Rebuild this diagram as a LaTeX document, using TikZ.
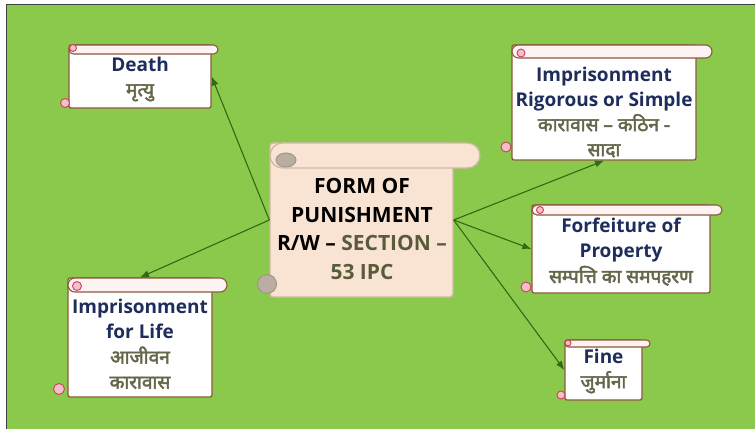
\documentclass[tikz,border=0pt]{standalone}
\usepackage{fontspec}
\setmainfont{Open Sans}
\newfontfamily\hindi[Script=Devanagari,FakeBold=2.5]{Noto Sans}
\usetikzlibrary{arrows.meta,positioning}
\definecolor{bggreen}{HTML}{8BC94C}
\definecolor{linkgreen}{HTML}{2F6A14}
\definecolor{inknavy}{HTML}{1E2D5C}
\definecolor{inkolive}{HTML}{66664A}
\definecolor{secolive}{HTML}{585C3A}
\definecolor{scrollbrown}{HTML}{8A5A3A}
\definecolor{rollpink}{HTML}{FDF3F3}
\definecolor{curlpink}{HTML}{F2BFCB}
\definecolor{curlred}{HTML}{CF3F5A}
\definecolor{peach}{HTML}{F9E4D4}
\definecolor{peachline}{HTML}{CDB9A3}
\definecolor{curlgray}{HTML}{BAAEA2}
\tikzset{
  paper/.style={draw=scrollbrown, line width=1.3pt, fill=white, rounded corners=2pt, inner sep=0pt},
  roll/.style={draw=scrollbrown, line width=1.1pt, fill=rollpink, rounded corners=#1},
  curl/.style={draw=curlred, line width=0.9pt, fill=curlpink},
  eng/.style={text=inknavy, font=\bfseries\fontsize{19}{25}\selectfont, align=center},
  link/.style={draw=linkgreen, line width=1.1pt, -{Latex[length=9pt,width=7pt]}}
}
\newcommand{\hin}[1]{{\hindi\color{inkolive}#1}}
\begin{document}
\begin{tikzpicture}[x=1pt,y=-1pt]
\useasboundingbox (0,0) rectangle (755,429);
\fill[white] (0,0) rectangle (755,429);
\fill[bggreen] (6,4) rectangle (755,429);
\draw[black!75, line width=1pt] (6,429) -- (6,4) -- (755,4);

% centre scroll
\node[draw=peachline, line width=1.3pt, fill=peach, rounded corners=3pt, minimum width=183, minimum height=154] (form) at (361.5,220) {};
\draw[draw=peachline, line width=1.3pt, fill=peach, rounded corners=12.5pt] (270,143) rectangle (480,168);
\draw[draw=peachline!80!black, line width=1pt, fill=curlgray] (286,160) ellipse (10 and 7);
\draw[draw=peachline!80!black, line width=1pt, fill=curlgray] (267,284) circle (9.5);
\node[font=\bfseries\fontsize{21}{28.5}\selectfont, align=center] (form-txt) at (362,229)
  {FORM OF\\PUNISHMENT\\R/W – {\color{secolive}SECTION –}\\{\color{secolive}53 IPC}};

% Death
\node[paper, minimum width=142, minimum height=63] (death) at (140,76.5) {};
\draw[roll=4.5pt] (69,45) rectangle (218,54);
\draw[curl] (73,48) circle (3.5);
\draw[curl] (65,103) circle (4.5);
\node[eng] (death-txt) at (140,79) {Death\\\hin{मृत्यु}};

% Imprisonment rigorous or simple
\node[paper, minimum width=184, minimum height=115] (rigorous) at (604,102.5) {};
\draw[roll=6.5pt] (512,45) rectangle (712,58);
\draw[curl] (521,53) circle (4);
\draw[curl] (506,147) circle (5);
\node[eng] (rigorous-txt) at (604,112) {Imprisonment\\Rigorous or Simple\\\hin{कारावास – कठिन -}\\\hin{सादा}};

% Forfeiture of property
\node[paper, minimum width=178, minimum height=88] (forfeit) at (621,249) {};
\draw[roll=5pt] (532,205) rectangle (722,215);
\draw[curl] (540,210) circle (3.5);
\draw[curl] (526,287) circle (5);
\node[eng] (forfeit-txt) at (621,252) {Forfeiture of\\Property\\\hin{सम्पत्ति का समपहरण}};

% Imprisonment for life
\node[paper, minimum width=144, minimum height=119] (life) at (140,337.5) {};
\draw[roll=7pt] (68,278) rectangle (227,292);
\draw[curl] (77,286) circle (4.5);
\draw[curl] (59,389) circle (5.5);
\node[eng] (life-txt) at (140,344) {Imprisonment\\for Life\\\hin{आजीवन}\\\hin{कारावास}};

% Fine
\node[paper, minimum width=77, minimum height=60] (fine) at (603.5,370) {};
\draw[roll=3.5pt] (565,340) rectangle (650,347);
\draw[curl] (568,343) circle (3);
\draw[curl] (561,395) circle (4);
\node[eng] (fine-txt) at (603.5,371) {Fine\\\hin{जुर्माना}};

% connectors
\draw[link] (form.west) -- (death.east);
\draw[link] (form.west) -- (life.north);
\draw[link] (form.east) -- (rigorous.south);
\draw[link] (form.east) -- (forfeit.west);
\draw[link] (form.east) -- (fine.west);
\end{tikzpicture}
\end{document}
